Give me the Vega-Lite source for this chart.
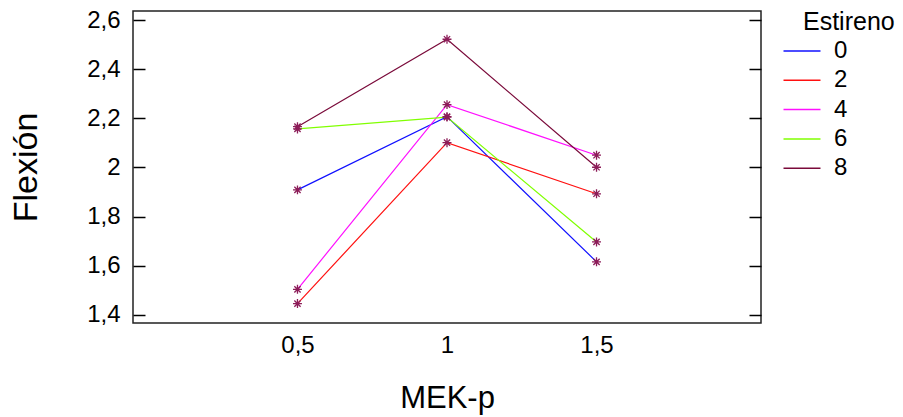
{
  "$schema": "https://vega.github.io/schema/vega-lite/v6.json",
  "autosize": {"type": "none"},
  "width": 628,
  "height": 312,
  "padding": {"left": 133, "top": 11, "right": 142, "bottom": 94},
  "background": "white",
  "config": {
    "font": "Liberation Sans",
    "view": {"stroke": "#222", "strokeWidth": 1.5},
    "axis": {"labelColor": "#000", "titleColor": "#000", "titleFontWeight": "normal", "grid": false, "domain": false},
    "legend": {"labelColor": "#000", "titleColor": "#000", "titleFontWeight": "normal"}
  },
  "data": {
    "values": [
      {"mek": 0.5, "est": "0", "flex": 1.909},
      {"mek": 1.0, "est": "0", "flex": 2.207},
      {"mek": 1.5, "est": "0", "flex": 1.616},
      {"mek": 0.5, "est": "2", "flex": 1.446},
      {"mek": 1.0, "est": "2", "flex": 2.101},
      {"mek": 1.5, "est": "2", "flex": 1.893},
      {"mek": 0.5, "est": "4", "flex": 1.504},
      {"mek": 1.0, "est": "4", "flex": 2.256},
      {"mek": 1.5, "est": "4", "flex": 2.050},
      {"mek": 0.5, "est": "6", "flex": 2.157},
      {"mek": 1.0, "est": "6", "flex": 2.205},
      {"mek": 1.5, "est": "6", "flex": 1.697},
      {"mek": 0.5, "est": "8", "flex": 2.166},
      {"mek": 1.0, "est": "8", "flex": 2.522},
      {"mek": 1.5, "est": "8", "flex": 2.001}
    ]
  },
  "layer": [
    {
      "mark": {"type": "line", "strokeWidth": 1.2},
      "encoding": {
        "x": {
          "field": "mek", "type": "quantitative",
          "scale": {"domain": [-0.05, 2.05], "nice": false, "zero": false},
          "axis": {
            "values": [0.5, 1, 1.5], "ticks": false, "labelPadding": 10,
            "labelFontSize": 24, "labelExpr": "replace(format(datum.value, '.1~f'), '.', ',')",
            "title": "MEK-p", "titleFontSize": 31, "titlePadding": 26
          }
        },
        "y": {
          "field": "flex", "type": "quantitative",
          "scale": {"domain": [1.367, 2.637], "nice": false, "zero": false},
          "axis": {
            "values": [1.4, 1.6, 1.8, 2, 2.2, 2.4, 2.6],
            "tickSize": -12, "tickColor": "#000", "tickWidth": 1.5, "labelPadding": 25,
            "labelFontSize": 24, "labelExpr": "replace(format(datum.value, '.1~f'), '.', ',')",
            "title": "Flexión", "titleFontSize": 34, "titlePadding": 43
          }
        },
        "color": {
          "field": "est", "type": "nominal",
          "scale": {"domain": ["0", "2", "4", "6", "8"], "range": ["#1010ff", "#ff1010", "#ff10ff", "#80ff00", "#7a0a3a"]},
          "legend": {
            "title": "Estireno", "orient": "none", "legendX": 670, "legendY": -1,
            "titleFontSize": 25, "labelFontSize": 24, "symbolType": "M-2,0L2,0",
            "symbolSize": 342, "symbolStrokeWidth": 1.5, "symbolOffset": -13,
            "labelOffset": 20, "rowPadding": 5.3, "titlePadding": 4, "padding": 0
          }
        }
      }
    },
    {
      "mark": {"type": "point", "shape": "M-1,0L1,0M0,-1L0,1M-0.7,-0.7L0.7,0.7M-0.7,0.7L0.7,-0.7", "filled": false, "strokeWidth": 1.3, "size": 80, "color": "#8c1c58", "opacity": 1},
      "encoding": {
        "x": {"field": "mek", "type": "quantitative"},
        "y": {
          "field": "flex", "type": "quantitative",
          "scale": {"domain": [1.367, 2.637], "nice": false, "zero": false},
          "axis": {
            "orient": "right", "values": [1.4, 1.6, 1.8, 2, 2.2, 2.4, 2.6],
            "tickSize": -12, "tickColor": "#000", "tickWidth": 1.5, "labels": false, "title": null
          }
        }
      }
    }
  ],
  "resolve": {"scale": {"y": "independent"}}
}
